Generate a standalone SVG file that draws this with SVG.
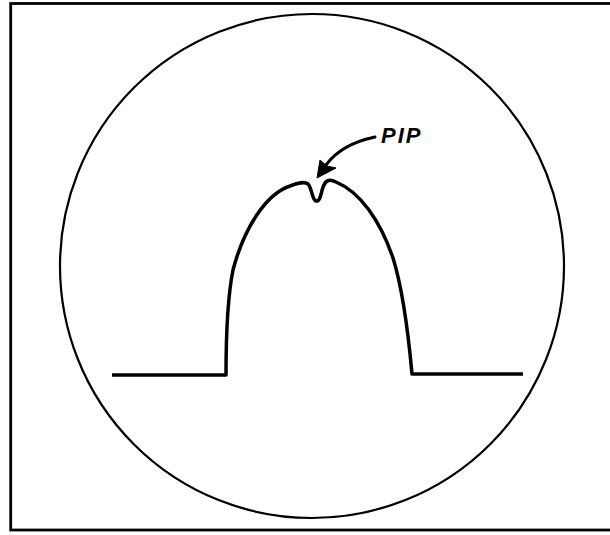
<svg xmlns="http://www.w3.org/2000/svg" width="610" height="535" viewBox="0 0 610 535">
<style>
.frame{fill:none;stroke:#000;stroke-width:2.8}
.screen{fill:none;stroke:#000;stroke-width:2.2}
.trace{fill:none;stroke:#000;stroke-width:3.5;stroke-linejoin:round;stroke-linecap:butt}
.lbl{font-family:"Liberation Sans",Arial,sans-serif;font-size:22px;font-weight:bold;font-style:italic;fill:#000;letter-spacing:2px}
.conn{fill:none;stroke:#000;stroke-width:3;stroke-linecap:round}
</style>
<rect width="610" height="535" fill="#fff"/>
<g id="frame"><rect class="frame" x="10.7" y="3.5" width="605" height="526.5"/></g>
<g id="screen"><circle class="screen" cx="312" cy="266" r="252"/></g>
<g id="trace"><path class="trace" d="M112,375 L226,375 C226,340 227,300 233,270 C244,228 266,194 290,186 C298,183 304,181 308,184 C312,188 312,200 316,201 C321,202 321,190 324,185 C326,180 330,179 336,182 C360,192 380,220 393,258 C403,290 408,330 412,374 L523,374"/></g>
<g id="pip-label"><text class="lbl" x="381" y="143">PIP</text></g>
<g id="connectors">
<path class="conn" d="M375,137 C356,141 337,150 326,165"/>
<polygon points="317,178 320,160 327,166 336,168" fill="#000" stroke="#000" stroke-width="1" stroke-linejoin="round"/>
</g>
</svg>
